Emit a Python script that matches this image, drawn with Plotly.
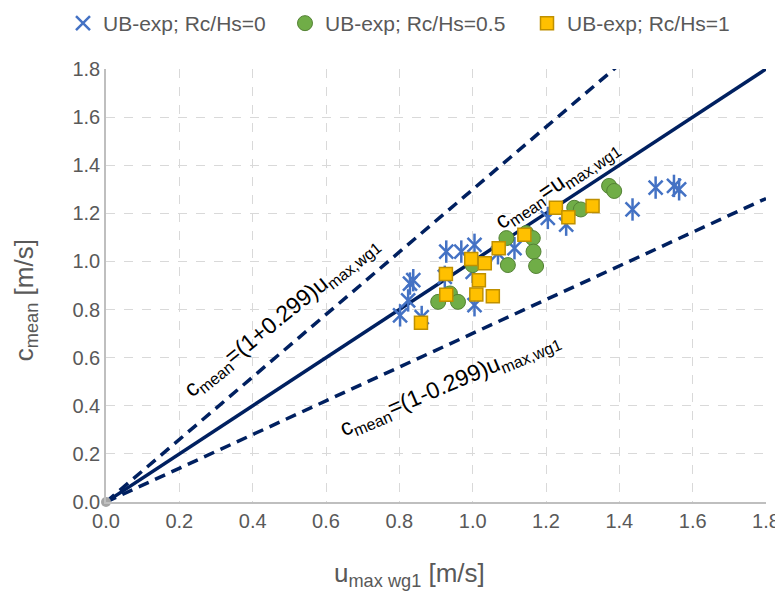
import plotly.graph_objects as go

# ---- data ----
blue_x = [0.802, 0.824, 0.829, 0.838, 0.861, 0.924, 0.928, 0.969, 1.005, 1.000,
          1.005, 1.069, 1.114, 1.205, 1.255, 1.436, 1.499, 1.549, 1.563]
blue_y = [0.776, 0.838, 0.908, 0.922, 0.769, 0.936, 1.041, 1.041, 1.069, 0.957,
          0.818, 1.034, 1.055, 1.181, 1.153, 1.216, 1.307, 1.314, 1.300]

green_x = [0.906, 0.938, 0.960, 1.000, 1.092, 1.096, 1.146, 1.164, 1.166, 1.173,
           1.277, 1.295, 1.372, 1.386]
green_y = [0.832, 0.867, 0.832, 0.985, 1.097, 0.985, 1.118, 1.097, 1.041, 0.981,
           1.223, 1.216, 1.314, 1.293]

yellow_x = [0.859, 0.927, 0.928, 0.996, 1.033, 1.017, 1.010, 1.055, 1.071, 1.141,
            1.227, 1.261, 1.327]
yellow_y = [0.745, 0.948, 0.862, 1.010, 0.992, 0.922, 0.863, 0.855, 1.055, 1.111,
            1.223, 1.184, 1.230]

line_x = [0.0, 1.8]
coef_mid = 1.0
coef_up = 1.299
coef_lo = 0.701

tick_vals = [0.0, 0.2, 0.4, 0.6, 0.8, 1.0, 1.2, 1.4, 1.6, 1.8]
tick_text = ["0.0", "0.2", "0.4", "0.6", "0.8", "1.0", "1.2", "1.4", "1.6", "1.8"]

NAVY = "#002060"
GREY_TXT = "#595959"
BLUE = "#4472C4"
FONT = "Liberation Sans, Arial"

fig = go.Figure()

# model lines
fig.add_trace(go.Scatter(x=line_x, y=[coef_up * v for v in line_x], mode="lines",
                         line=dict(color=NAVY, width=3.5, dash="11px,7px"),
                         showlegend=False, hoverinfo="skip"))
fig.add_trace(go.Scatter(x=line_x, y=[coef_lo * v for v in line_x], mode="lines",
                         line=dict(color=NAVY, width=3.5, dash="11px,7px"),
                         showlegend=False, hoverinfo="skip"))
fig.add_trace(go.Scatter(x=line_x, y=[coef_mid * v for v in line_x], mode="lines",
                         line=dict(color=NAVY, width=3.5),
                         showlegend=False, hoverinfo="skip"))
# origin point
fig.add_trace(go.Scatter(x=[0.0], y=[0.0], mode="markers",
                         marker=dict(color="#A5A5A5", size=10),
                         showlegend=False, hoverinfo="skip", cliponaxis=False))

# blue asterisks (x + vertical line)
fig.add_trace(go.Scatter(x=blue_x, y=blue_y, mode="markers", name="UB-exp; Rc/Hs=0",
                         legendgroup="b", legend="legend",
                         marker=dict(symbol="x-thin-open", size=14, color=BLUE,
                                     line=dict(color=BLUE, width=2.5))))
fig.add_trace(go.Scatter(x=blue_x, y=blue_y, mode="markers", name="UB-exp; Rc/Hs=0",
                         legendgroup="b", showlegend=False,
                         marker=dict(symbol="line-ns-open", size=16, color=BLUE,
                                     line=dict(color=BLUE, width=2.5))))
# green circles
fig.add_trace(go.Scatter(x=green_x, y=green_y, mode="markers", name="UB-exp; Rc/Hs=0.5",
                         legend="legend2",
                         marker=dict(symbol="circle", size=15, color="#70AD47",
                                     line=dict(color="#548235", width=1))))
# yellow squares
fig.add_trace(go.Scatter(x=yellow_x, y=yellow_y, mode="markers", name="UB-exp; Rc/Hs=1",
                         legend="legend3",
                         marker=dict(symbol="square", size=13, color="#FFC000",
                                     line=dict(color="#BF9000", width=1.5))))

ann_font = dict(family=FONT, size=23, color="#000000")
fig.add_annotation(x=0.481, y=0.77, xref="x", yref="y", showarrow=False,
                   text="c<sub>mean</sub>=(1+0.299)u<sub>max,wg1</sub>",
                   textangle=-39, font=ann_font)
fig.add_annotation(x=0.9375, y=0.49, xref="x", yref="y", showarrow=False,
                   text="c<sub>mean</sub>=(1-0.299)u<sub>max,wg1</sub>",
                   textangle=-23, font=ann_font)
fig.add_annotation(x=1.231, y=1.32, xref="x", yref="y", showarrow=False,
                   text="c<sub>mean</sub>=u<sub>max,wg1</sub>",
                   textangle=-34, font=ann_font)

# axis titles
title_font = dict(family=FONT, size=26, color=GREY_TXT)
fig.add_annotation(x=0.46, y=-0.21, xref="paper", yref="paper", showarrow=False,
                   text="u<sub>max wg1</sub> [m/s]", font=title_font)
fig.add_annotation(x=-0.15, y=0.465, xref="paper", yref="paper", showarrow=False,
                   text="c<sub>mean</sub> [m/s]", textangle=-90, font=title_font)

axis_common = dict(range=[0, 1.8], tickvals=tick_vals, ticktext=tick_text,
                   showgrid=True, gridcolor="#D9D9D9", griddash="dash", gridwidth=1,
                   zeroline=False, showline=True, linecolor="#BFBFBF", linewidth=1.5,
                   ticks="", tickfont=dict(family=FONT, size=20, color=GREY_TXT))

fig.update_xaxes(**axis_common)
fig.update_yaxes(**axis_common)

W, H = 775, 584  # page body adds an 8px offset
PLOT_H = H - 61 - 90

def leg(xpx):
    return dict(orientation="h", xref="container", yref="paper",
                x=xpx / W, y=1 + 66 / PLOT_H, xanchor="left", yanchor="top",
                font=dict(family=FONT, size=21, color=GREY_TXT),
                itemwidth=30, bgcolor="rgba(0,0,0,0)", borderwidth=0)

fig.update_layout(
    width=W, height=H,
    margin=dict(l=98, r=17, t=61, b=90, autoexpand=False),
    paper_bgcolor="white", plot_bgcolor="white",
    font=dict(family=FONT, color=GREY_TXT),
    showlegend=True,
    legend=leg(55), legend2=leg(277), legend3=leg(519),
)

fig.write_html("out.html")
